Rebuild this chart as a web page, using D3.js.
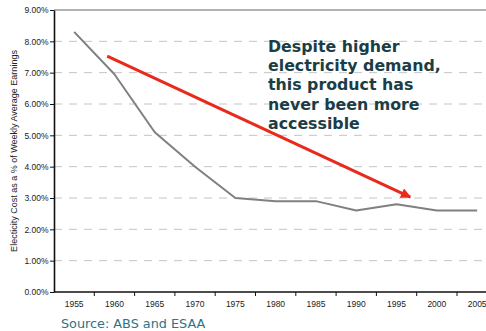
<!DOCTYPE html>
<html>
<head>
<meta charset="utf-8">
<script src="https://cdn.jsdelivr.net/npm/d3@7"></script>
<style>
  html, body { margin: 0; padding: 0; background: #fff; overflow: hidden; }
  svg { display: block; }
</style>
</head>
<body>
<svg id="chart" width="486" height="331"></svg>
<script>
// ---- data ----
const years = [1955, 1960, 1965, 1970, 1975, 1980, 1985, 1990, 1995, 2000, 2005];
const costPct = [8.3, 6.95, 5.1, 4.0, 3.0, 2.9, 2.9, 2.6, 2.8, 2.6, 2.6];
const yTicks = [0, 1, 2, 3, 4, 5, 6, 7, 8, 9];
const annotationLines = ["Despite higher", "electricity demand,", "this product has", "never been more", "accessible"];
const trendArrow = [{ year: 1959.1, value: 7.53 }, { year: 1996.7, value: 3.03 }];
const yAxisTitle = "Electicity Cost as a % of Weekly Average Earnings";
const sourceText = "Source:  ABS and ESAA";

(function () {
// ---- layout ----
const svg = d3.select("#chart");
const mLeft = 54, mTop = 10, mBottom = 292, bandW = 40.3;
const mRight = mLeft + bandW * years.length;

const x = d3.scaleBand().domain(years).range([mLeft, mRight]).padding(0);
const xYear = d3.scaleLinear()
  .domain([years[0], years[years.length - 1]])
  .range([x(years[0]) + x.bandwidth() / 2, x(years[years.length - 1]) + x.bandwidth() / 2]);
const y = d3.scaleLinear().domain([0, 9]).range([mBottom, mTop]);

// gridlines
svg.append("g").selectAll("line")
  .data(yTicks.filter(d => d > 0 && d < 9))
  .join("line")
  .attr("x1", mLeft).attr("x2", 486)
  .attr("y1", d => y(d)).attr("y2", d => y(d))
  .attr("stroke", "#c4c4c4").attr("stroke-width", 1)
  .attr("stroke-dasharray", "8,7");

// top border line (9%)
svg.append("line")
  .attr("x1", mLeft).attr("x2", 486)
  .attr("y1", y(9)).attr("y2", y(9))
  .attr("stroke", "#9a9a9a").attr("stroke-width", 1.6);

// y axis
const yAxis = d3.axisLeft(y).tickValues(yTicks)
  .tickFormat(d => d.toFixed(2) + "%").tickSize(4).tickSizeOuter(0);
const gy = svg.append("g").attr("transform", `translate(${mLeft},0)`).call(yAxis);
gy.select(".domain").attr("stroke", "#111").attr("stroke-width", 1.6);
gy.selectAll(".tick line").attr("stroke", "#111");
gy.selectAll(".tick text")
  .attr("font-family", "'Liberation Sans', Arial, sans-serif")
  .attr("font-size", 8.5).attr("fill", "#222").attr("x", -5.5);

// x axis
svg.append("line")
  .attr("x1", mLeft).attr("x2", 486)
  .attr("y1", mBottom).attr("y2", mBottom)
  .attr("stroke", "#111").attr("stroke-width", 1.6);
svg.append("g").selectAll("line")
  .data(years.slice(1))
  .join("line")
  .attr("x1", d => x(d)).attr("x2", d => x(d))
  .attr("y1", mBottom).attr("y2", mBottom + 4)
  .attr("stroke", "#111").attr("stroke-width", 1);
svg.append("g").selectAll("text")
  .data(years)
  .join("text")
  .attr("x", d => x(d) + x.bandwidth() / 2)
  .attr("y", 307)
  .attr("text-anchor", "middle")
  .attr("font-family", "'Liberation Sans', Arial, sans-serif")
  .attr("font-size", 8.5).attr("fill", "#222")
  .text(d => d);

// y axis title
svg.append("text")
  .attr("transform", `translate(17,151) rotate(-90)`)
  .attr("text-anchor", "middle")
  .attr("font-family", "'Liberation Sans', Arial, sans-serif")
  .attr("font-size", 9).attr("fill", "#222")
  .text(yAxisTitle);

// data line
const line = d3.line()
  .x((d, i) => x(years[i]) + x.bandwidth() / 2)
  .y(d => y(d));
svg.append("path")
  .datum(costPct)
  .attr("d", line)
  .attr("fill", "none")
  .attr("stroke", "#808080").attr("stroke-width", 2)
  .attr("stroke-linejoin", "round");

// red arrow
const defs = svg.append("defs");
defs.append("marker")
  .attr("id", "arrowhead")
  .attr("viewBox", "0 0 10 10")
  .attr("refX", 9).attr("refY", 5)
  .attr("markerWidth", 3.8).attr("markerHeight", 3.4)
  .attr("markerUnits", "strokeWidth")
  .attr("orient", "auto")
  .append("path").attr("d", "M0,0 L10,5 L0,10 Z").attr("fill", "#e8291c");

const p0 = trendArrow[0], p1 = trendArrow[1];
svg.append("line")
  .attr("x1", xYear(p0.year)).attr("y1", y(p0.value))
  .attr("x2", xYear(p1.year)).attr("y2", y(p1.value))
  .attr("stroke", "#e8291c").attr("stroke-width", 3)
  .attr("marker-end", "url(#arrowhead)");

// annotation
const ann = svg.append("text")
  .attr("font-family", "'DejaVu Sans', Verdana, sans-serif")
  .attr("font-weight", "bold")
  .attr("font-size", 15.8)
  .attr("fill", "#1b3d45");
ann.selectAll("tspan")
  .data(annotationLines)
  .join("tspan")
  .attr("x", 268)
  .attr("y", (d, i) => 52 + i * 19.2)
  .text(d => d);

// source
svg.append("text")
  .attr("x", 61).attr("y", 327.5)
  .attr("font-family", "'DejaVu Sans', Verdana, sans-serif")
  .attr("font-size", 12.8)
  .attr("fill", "#2e7383")
  .text(sourceText);
})();
</script>
</body>
</html>
